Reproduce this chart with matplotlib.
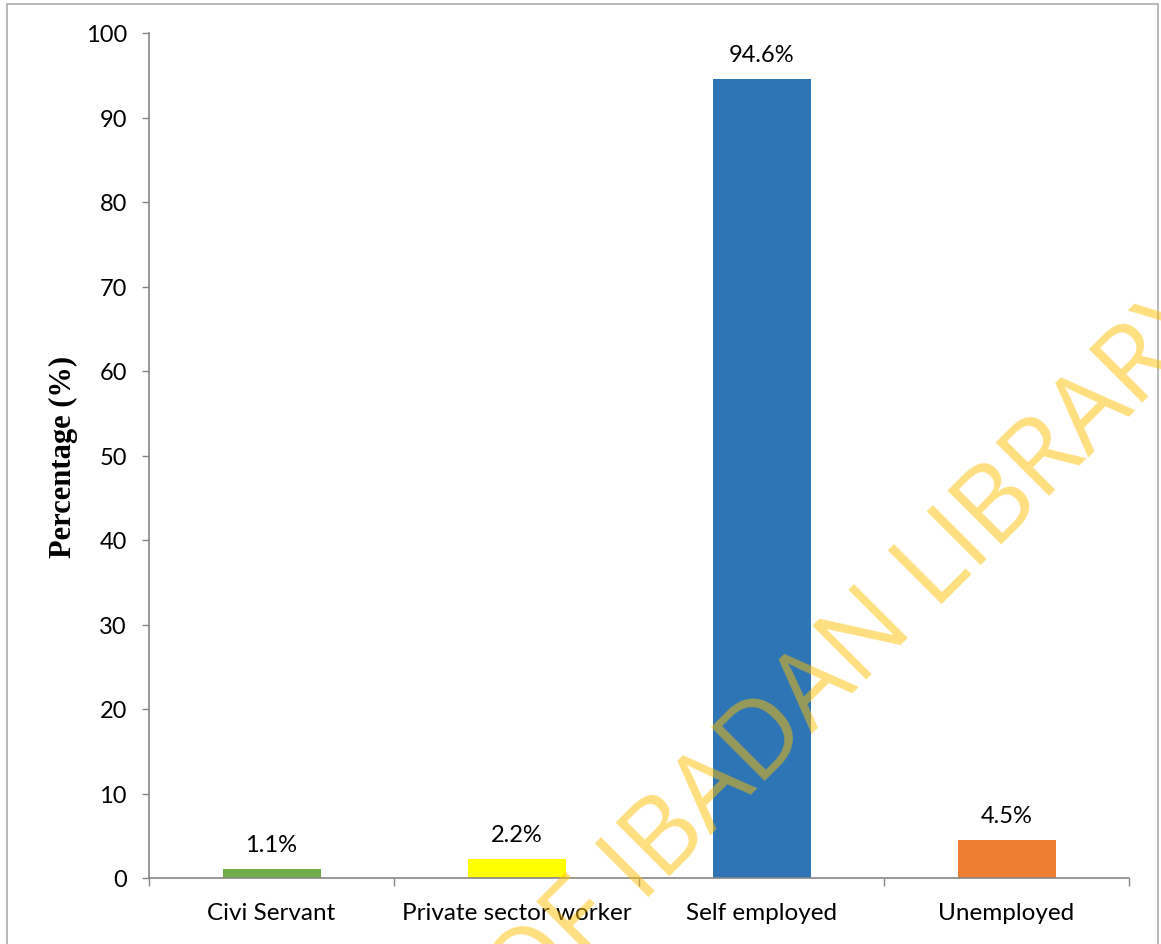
import matplotlib
matplotlib.use("Agg")
import matplotlib.pyplot as plt
from matplotlib.patches import Rectangle
import numpy as np

categories = ["Civi Servant", "Private sector worker", "Self employed", "Unemployed"]
values = [1.1, 2.2, 94.6, 4.5]
value_labels = ["1.1%", "2.2%", "94.6%", "4.5%"]
bar_colors = ["#70AD47", "#FFFF00", "#2E75B6", "#ED7D31"]
yticks = list(range(0, 101, 10))
ylabel = "Percentage (%)"

W, H = 1161, 945
fig = plt.figure(figsize=(W / 100, H / 100), dpi=100)
fig.patch.set_facecolor("white")

def fx(px):
    return px / W

def fy(py):
    return 1 - py / H

# outer chart border
fig.patches.append(Rectangle((fx(7), fy(960)), fx(1158) - fx(7), fy(5) - fy(960),
                             transform=fig.transFigure, fill=False,
                             edgecolor="#B4B4B4", linewidth=1.3, zorder=0))

ax = fig.add_axes([fx(149), fy(879), fx(1129) - fx(149), fy(34) - fy(879)])
x = np.arange(len(categories))
ax.bar(x, values, width=0.4, color=bar_colors, zorder=2)
ax.set_xlim(-0.5, len(categories) - 0.5)
ax.set_ylim(0, 100)

for xi, v, lab in zip(x, values, value_labels):
    ax.annotate(lab, (xi, v), xytext=(0, 13), textcoords="offset points",
                ha="center", va="baseline", fontsize=17, family="Lato", color="#000000")

for s in ["top", "right"]:
    ax.spines[s].set_visible(False)
for s in ["left", "bottom"]:
    ax.spines[s].set_color("#868686")
    ax.spines[s].set_linewidth(1.2)

ax.set_yticks(yticks)
ax.set_yticklabels([str(t) for t in yticks], fontsize=17, family="Lato")
ax.tick_params(axis="y", length=5, width=1.0, color="#868686", pad=11)

ax.set_xticks(np.arange(-0.5, len(categories), 1.0))
ax.set_xticklabels([])
ax.tick_params(axis="x", which="major", length=6, width=1.0, color="#868686")
ax.set_xticks(x, minor=True)
ax.set_xticklabels(categories, minor=True, fontsize=17.5, family="Lato")
ax.tick_params(axis="x", which="minor", length=0, pad=17)

fig.text(fx(63), fy(457), ylabel, rotation=90, ha="center", va="center",
         fontsize=22, fontweight="bold", family="Liberation Serif")

# watermark
wm_kw = dict(rotation=45, rotation_mode="anchor", va="baseline", fontsize=76,
             family="Open Sans", color="#FFC000", alpha=0.5, zorder=10)
fig.text(fx(642), fy(904), "IBADAN LIBRARY", ha="left", **wm_kw)
fig.text(fx(622), fy(924), "UNIVERSITY OF", ha="right", **wm_kw)

fig.savefig("out.png", dpi=100, facecolor="white")
